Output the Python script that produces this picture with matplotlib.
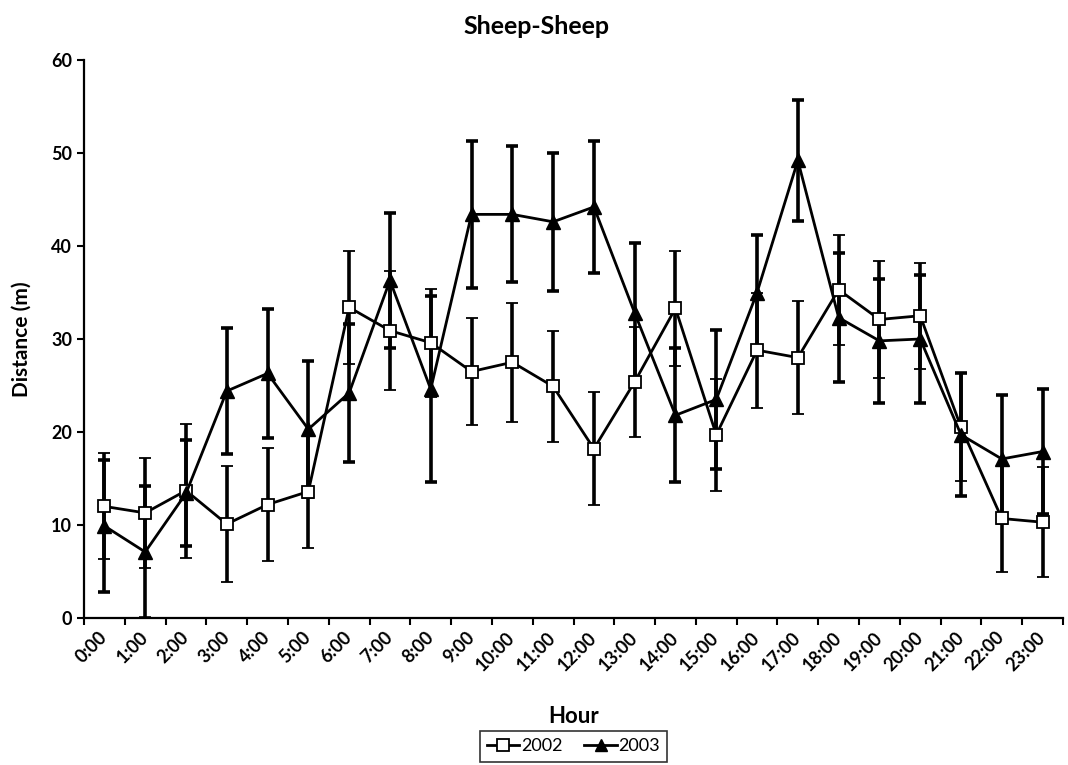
import numpy as np
import matplotlib.pyplot as plt
from matplotlib.ticker import FixedLocator
from matplotlib.lines import Line2D

plt.rcParams['font.family'] = ['Lato', 'DejaVu Sans']

hours = ['%d:00' % h for h in range(24)]

# mean distance between sheep (m) per hour, with +/- error
d2002 = [12.0, 11.3, 13.7, 10.1, 12.2, 13.6, 33.4, 30.9, 29.6, 26.5, 27.5, 24.9,
         18.2, 25.4, 33.3, 19.7, 28.8, 28.0, 35.3, 32.1, 32.5, 20.5, 10.7, 10.3]
e2002 = [5.7, 5.9, 7.2, 6.2, 6.1, 6.1, 6.1, 6.4, 5.8, 5.8, 6.4, 6.0,
         6.1, 5.9, 6.2, 6.0, 6.2, 6.1, 5.9, 6.3, 5.7, 5.8, 5.7, 5.9]
d2003 = [9.9, 7.1, 13.4, 24.4, 26.3, 20.3, 24.2, 36.3, 24.6, 43.4, 43.4, 42.6,
         44.2, 32.8, 21.8, 23.5, 35.0, 49.2, 32.3, 29.8, 30.0, 19.7, 17.1, 17.9]
e2003 = [7.1, 7.1, 5.7, 6.8, 6.9, 7.3, 7.4, 7.3, 10.0, 7.9, 7.3, 7.4,
         7.1, 7.5, 7.2, 7.5, 6.2, 6.5, 6.9, 6.7, 6.9, 6.6, 6.9, 6.7]

x = np.arange(len(hours)) + 0.5

fig = plt.figure(figsize=(10.68, 7.65), dpi=100)
ax = fig.add_axes([84 / 1068, 1 - 618 / 765, (1063 - 84) / 1068, (618 - 60) / 765])

ebkw = dict(ecolor='black', elinewidth=2.6, capsize=4, capthick=2.6)
ax.errorbar(x, d2002, yerr=e2002, color='black', lw=2.0, marker='s', ms=9,
            mfc='white', mec='black', mew=1.3, zorder=3, **ebkw)
ax.errorbar(x, d2003, yerr=e2003, color='black', lw=2.0, marker='^', ms=9.5,
            mfc='black', mec='black', zorder=3, **ebkw)

ax.set_xlim(0, len(hours))
ax.set_ylim(0, 60)
ax.set_yticks(np.arange(0, 61, 10))
ax.xaxis.set_major_locator(FixedLocator(np.arange(0, len(hours) + 1)))
ax.xaxis.set_minor_locator(FixedLocator(x))
ax.set_xticklabels([])
ax.set_xticklabels(hours, minor=True, rotation=45, ha='right', va='center',
                   rotation_mode='anchor', fontsize=13, fontweight='bold')
ax.tick_params(axis='x', which='minor', length=0, pad=12)
ax.tick_params(axis='both', which='major', direction='out', length=5, width=1.5,
               labelsize=13)
for lbl in ax.get_yticklabels():
    lbl.set_fontweight('bold')

for s in ['top', 'right']:
    ax.spines[s].set_visible(False)
for s in ['left', 'bottom']:
    ax.spines[s].set_linewidth(1.6)

ax.set_xlabel('Hour', fontsize=16, fontweight='bold', labelpad=23)
ax.set_ylabel('Distance (m)', fontsize=15, fontweight='bold', labelpad=14)
fig.text(0.502, 0.965, 'Sheep-Sheep', ha='center', va='center',
         fontsize=18, fontweight='bold')

handles = [Line2D([], [], color='black', lw=2.0, marker='s', ms=8, mfc='white',
                  mec='black', mew=1.3),
           Line2D([], [], color='black', lw=2.0, marker='^', ms=8, mfc='black')]
leg = ax.legend(handles, ['2002', '2003'], loc='center',
                bbox_to_anchor=(0.5, -0.23), ncol=2, frameon=True,
                fancybox=False, edgecolor='black', fontsize=13,
                handlelength=1.8, handletextpad=0.1, columnspacing=1.2,
                borderpad=0.4)
leg.get_frame().set_linewidth(1.2)

fig.savefig('out.png', dpi=100)
